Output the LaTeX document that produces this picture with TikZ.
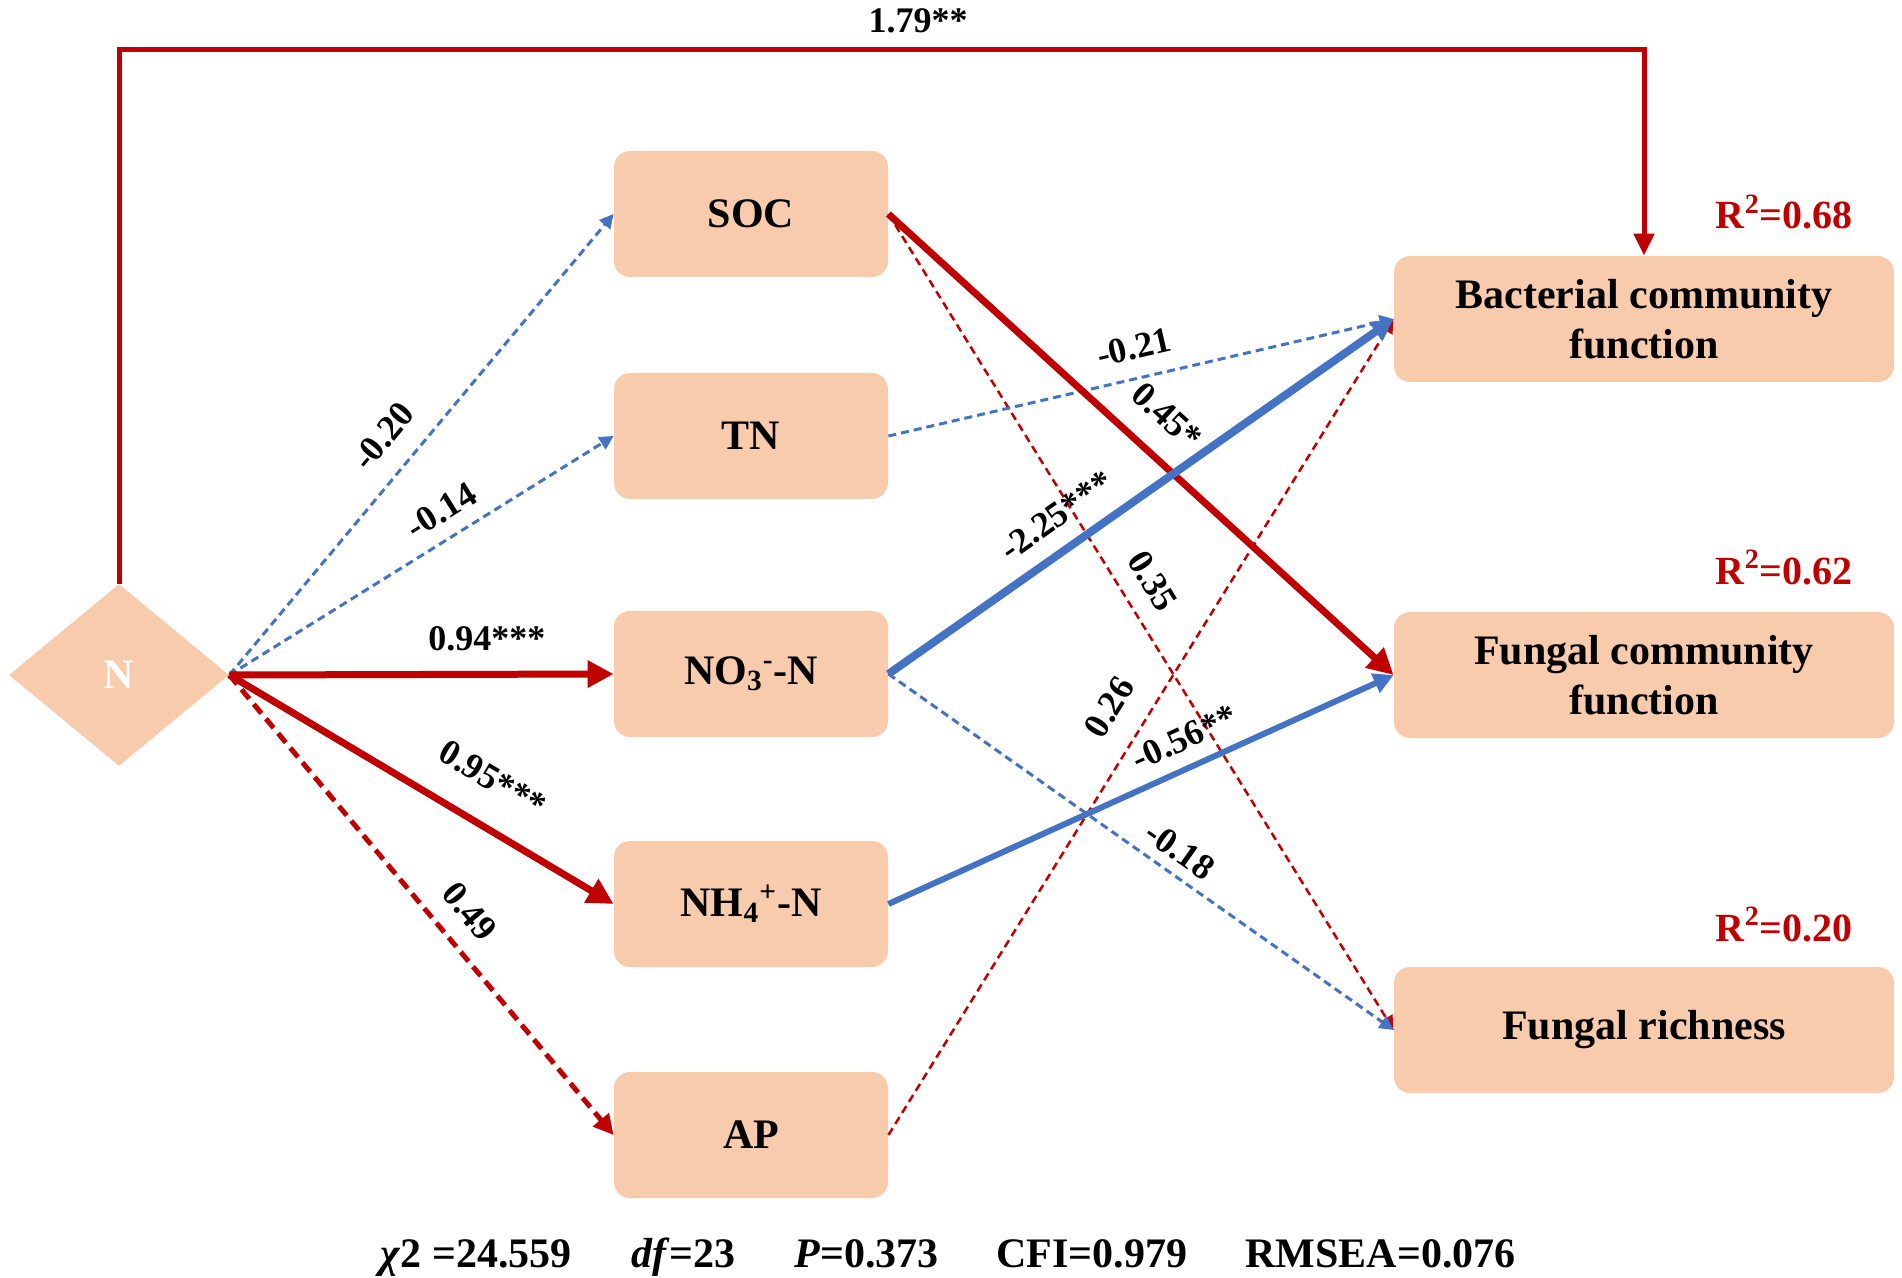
\documentclass[tikz,border=0pt]{standalone}
\usepackage{fontspec}
\setmainfont{Liberation Serif}
\usepackage{xcolor}
\usepackage{tikz}
\usetikzlibrary{shapes.geometric, arrows.meta}

\definecolor{nred}{HTML}{C00000}
\definecolor{nblue}{HTML}{4472C4}
\definecolor{nbox}{HTML}{F8CBAD}

\begin{document}
\begin{tikzpicture}[x=0.5pt, y=-0.5pt,
        box/.style={rectangle, rounded corners=8pt, fill=nbox, minimum width=137pt, minimum height=63pt, inner sep=0pt, align=center, font=\fontsize{21}{25}\selectfont\bfseries},
        wide/.style={box, minimum width=250pt},
        lab/.style={inner sep=0pt, sloped, font=\fontsize{18}{21}\selectfont\bfseries},
        rsq/.style={anchor=base east, inner sep=0pt, text=nred, font=\fontsize{20}{24}\selectfont\bfseries},
        stat/.style={anchor=base west, inner sep=0pt, font=\fontsize{21}{25}\selectfont\bfseries},
        rsolid/.style={draw=nred, line width=3.5pt, -{Triangle[length=13pt,width=13pt]}},
        rtop/.style={draw=nred, line width=2.5pt, -{Triangle[length=11pt,width=10pt]}},
        rdashbig/.style={draw=nred, line width=2.5pt, dash pattern=on 6pt off 3.5pt, -{Triangle[length=10pt,width=10pt]}},
        rdash/.style={draw=nred, line width=1.25pt, dash pattern=on 4pt off 2.5pt, -{Triangle[length=7pt,width=7pt]}},
        bsolid/.style={draw=nblue, line width=4pt, -{Triangle[length=11pt,width=11pt]}},
        bthin/.style={draw=nblue, line width=3pt, -{Triangle[length=10pt,width=10pt]}},
        bdash/.style={draw=nblue, line width=1.5pt, dash pattern=on 4pt off 2.5pt, -{Triangle[length=7pt,width=7pt]}}]
        \useasboundingbox (0,0) rectangle (1902,1278);

        \node[diamond, fill=nbox, minimum width=110pt, minimum height=91pt, inner sep=0pt, text=white, font=\fontsize{21}{25}\selectfont\bfseries] (N) at (119,675) {N};

        \node[box] (SOC) at (751,214) {SOC};
        \node[box] (TN) at (751,436) {TN};
        \node[box] (NO3) at (751,674) {NO\textsubscript{3}\textsuperscript{-}-N};
        \node[box] (NH4) at (751,904) {NH\textsubscript{4}\textsuperscript{+}-N};
        \node[box] (AP) at (751,1135) {AP};

        \node[wide] (Bact) at (1644,319) {Bacterial community\\function};
        \node[wide] (FunC) at (1644,675) {Fungal community\\function};
        \node[wide] (FunR) at (1644,1030) {Fungal richness};

        \node[rsq] (r1) at (1853,229) {R\textsuperscript{2}=0.68};
        \node[rsq] (r2) at (1853,584) {R\textsuperscript{2}=0.62};
        \node[rsq] (r3) at (1853,941) {R\textsuperscript{2}=0.20};

        \draw[rtop] (N.north) -- ++(0,-534) -| (Bact.north) node[lab, pos=0.262, above=7pt] {1.79**};

        \draw[bdash] (N.east) -- (SOC.west) node[lab, pos=0.47, above=10.5pt] {-0.20};
        \draw[bdash] (N.east) -- (TN.west) node[lab, pos=0.59, above=7pt] {-0.14};
        \draw[rsolid] (N.east) -- (NO3.west) node[lab, pos=0.67, above=10pt] {0.94***};
        \draw[rsolid] (N.east) -- (NH4.west) node[lab, pos=0.625, above=15pt] {0.95***};
        \draw[rdashbig] (N.east) -- (AP.west) node[lab, pos=0.56, above=9pt] {0.49};

        \draw[rdash] (SOC.east) -- (FunR.west) node[lab, pos=0.47, above=9pt] {0.35};
        \draw[rdash] (AP.east) -- (Bact.west) node[lab, pos=0.5, above=12pt] {0.26};
        \draw[bdash] (TN.east) -- (Bact.west) node[lab, pos=0.5, above=8.5pt] {-0.21};
        \draw[bdash] (NO3.east) -- (FunR.west) node[lab, pos=0.55, above=5pt] {-0.18};
        \draw[rsolid] (SOC.east) -- (FunC.west) node[lab, pos=0.5, above=11.5pt] {0.45*};
        \draw[bsolid] (NO3.east) -- (Bact.west) node[lab, pos=0.37, above=8.5pt] {-2.25***};
        \draw[bthin] (NH4.east) -- (FunC.west) node[lab, pos=0.61, above=7pt] {-0.56**};

        \node[stat] (s1) at (380,1267) {\textit{χ}2 =24.559};
        \node[stat] (s2) at (631,1267) {\textit{df}=23};
        \node[stat] (s3) at (794,1267) {\textit{P}=0.373};
        \node[stat] (s4) at (996,1267) {CFI=0.979};
        \node[stat] (s5) at (1245,1267) {RMSEA=0.076};
    \end{tikzpicture}
\end{document}
